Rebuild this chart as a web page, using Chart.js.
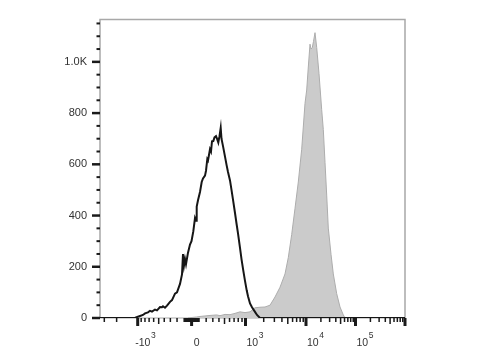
<!DOCTYPE html>
<html>
<head>
<meta charset="utf-8">
<script src="https://cdn.jsdelivr.net/npm/chart.js@4.4.1/dist/chart.umd.min.js"></script>
<style>
  html, body { margin: 0; padding: 0; background: #fff; }
  canvas { display: block; }
</style>
</head>
<body>
<canvas id="histChart" width="480" height="360"></canvas>
<script>
// x is the display channel of the biexponential axis (0..305)
const blackChannels = [0, 35, 36, 40, 43, 45, 48, 50, 52, 55, 57, 60, 62, 63, 65, 67, 70, 72, 75, 77,
  80, 82, 83, 84, 85, 86, 88, 90, 91.5, 93.3, 95, 96, 96.7, 98, 100, 101.7, 103, 105, 106, 107.3,
  108, 110, 111, 112, 113.3, 114.5, 116, 117, 118.3, 119.5, 120.7, 121.5, 123.3, 125, 126.7, 128,
  130, 131.5, 133.3, 135, 136.7, 138, 140, 141.5, 143.3, 145, 146.7, 148, 150, 152, 155, 157, 160, 305];
const blackCounts = [0, 0, 2, 8, 12, 18, 22, 28, 25, 33, 30, 43, 42, 46, 40, 48, 63, 70, 95, 100,
  133, 170, 250, 205, 230, 210, 255, 287, 300, 338, 390, 380, 435, 460, 492, 531, 545, 556, 575, 620,
  615, 659, 650, 690, 691, 705, 710, 700, 685, 710, 742, 700, 665, 630, 595, 570,
  537, 500, 454, 410, 364, 330, 274, 230, 185, 145, 108, 85, 57, 42, 24, 12, 0, 0];

const grayChannels = [88, 92, 96.7, 100, 105, 110, 116.7, 120, 125, 130, 135, 140, 145, 150, 155, 160,
  165, 170, 175, 180, 185, 188.3, 191.7, 195, 198.3, 201.7, 205, 206.7, 208.3, 210, 211, 212.3, 213.5,
  215, 216.7, 219, 221.7, 223.3, 225, 226.7, 228.3, 231, 233.3, 236.7, 240, 243.3, 245];
const grayCounts = [0, 2, 4, 6, 8, 10, 12, 9, 14, 13, 18, 24, 21, 24, 40, 42,
  43, 50, 82, 120, 172, 236, 326, 428, 531, 659, 838, 890, 980, 1069, 1050, 1056, 1080,
  1114, 1056, 954, 813, 736, 608, 480, 351, 249, 172, 95, 43, 12, 0];

const yLabelValues = [0, 200, 400, 600, 800, 1000];
const yMinorStep = 50;
const yMax = 1165;

const xLabelValues = [-1000, 0, 1000, 10000, 100000];
const xLabelBase = ["-10", "0", "10", "10", "10"];
const xLabelExp = ["3", "", "3", "4", "5"];
const xMajorValues = [-1000, 0, 1000, 10000, 100000, 1000000];

// biex axis anchors: value -> channel
const decadeValues = [-10000, -1000, 0, 1000, 10000, 100000, 1000000];
const decadeChannels = [-32.3, 37.7, 91.6, 145.5, 206, 255.5, 305];

function toChannel(v) {
  const zero = decadeChannels[2];
  if (Math.abs(v) <= 1000) {
    const edge = v < 0 ? zero - decadeChannels[1] : decadeChannels[3] - zero;
    return zero + Math.sign(v) * edge * Math.asinh(Math.abs(v) / 500) / Math.asinh(2);
  }
  for (let i = 0; i < decadeValues.length - 1; i++) {
    const a = decadeValues[i], b = decadeValues[i + 1];
    if (v >= Math.min(a, b) && v <= Math.max(a, b)) {
      const t = Math.log10(Math.abs(v) / Math.abs(a)) / Math.log10(Math.abs(b) / Math.abs(a));
      return decadeChannels[i] + t * (decadeChannels[i + 1] - decadeChannels[i]);
    }
  }
  return NaN;
}

function xTickList() {
  const list = [{ v: 0, kind: "major" }];
  for (let k = 1; k <= 5; k++) {
    for (let m = 1; m <= 9; m++) {
      const v = m * Math.pow(10, k);
      const kind = xMajorValues.includes(v) ? "major" : (m === 5 && k >= 2 ? "mid" : "minor");
      list.push({ v, kind });
      if (k <= 3) list.push({ v: -v, kind });
    }
  }
  list.push({ v: 1000000, kind: "major" });
  return list;
}

const FONT = "'Liberation Sans', Arial, sans-serif";

const axisPlugin = {
  id: "biexAxes",
  beforeDatasetsDraw(chart) {
    const { ctx, chartArea: a } = chart;
    ctx.save();
    ctx.strokeStyle = "#a8a8a8";
    ctx.lineWidth = 1.5;
    ctx.beginPath();
    ctx.moveTo(a.left, a.bottom);
    ctx.lineTo(a.left, a.top);
    ctx.lineTo(a.right, a.top);
    ctx.lineTo(a.right, a.bottom);
    ctx.stroke();
    ctx.lineWidth = 1;
    ctx.beginPath();
    ctx.moveTo(a.left, a.bottom);
    ctx.lineTo(a.right, a.bottom);
    ctx.stroke();
    ctx.restore();
  },
  afterDatasetsDraw(chart) {
    const { ctx, chartArea: a, scales: { x, y } } = chart;
    ctx.save();
    ctx.strokeStyle = "#1a1a1a";

    // y ticks
    for (let v = 0; v <= yMax; v += yMinorStep) {
      const py = y.getPixelForValue(v);
      const major = yLabelValues.includes(v);
      ctx.lineWidth = major ? 2.5 : 2;
      ctx.beginPath();
      ctx.moveTo(a.left - (major ? 8 : 3.5), py);
      ctx.lineTo(a.left, py);
      ctx.stroke();
    }

    // x ticks
    xTickList().forEach((t) => {
      const ch = toChannel(t.v);
      if (!(ch >= x.min && ch <= x.max)) return;
      const px = x.getPixelForValue(ch);
      const len = t.kind === "major" ? 8 : t.kind === "mid" ? 6 : 4;
      ctx.lineWidth = t.kind === "major" ? 3 : 1.5;
      ctx.beginPath();
      ctx.moveTo(px, a.bottom);
      ctx.lineTo(px, a.bottom + len);
      ctx.stroke();
    });

    // x labels with superscript exponents
    ctx.fillStyle = "#333";
    ctx.textBaseline = "alphabetic";
    xLabelValues.forEach((v, i) => {
      const px = x.getPixelForValue(toChannel(v));
      const base = xLabelBase[i];
      ctx.font = `10.5px ${FONT}`;
      if (!xLabelExp[i]) {
        ctx.textAlign = "center";
        ctx.fillText(base, px + 5, a.bottom + 28);
        return;
      }
      const sign = base.startsWith("-") ? "-" : "";
      const digits = base.replace("-", "");
      const left = px + 1;
      ctx.textAlign = "right";
      if (sign) ctx.fillText(sign, left, a.bottom + 28);
      ctx.textAlign = "left";
      ctx.fillText(digits, left, a.bottom + 28);
      const w = ctx.measureText(digits).width;
      ctx.font = `8.5px ${FONT}`;
      ctx.fillText(xLabelExp[i], left + w + 0.5, a.bottom + 20);
    });
    ctx.restore();
  },
};

new Chart(document.getElementById("histChart"), {
  type: "line",
  data: {
    datasets: [
      {
        label: "stained",
        data: blackChannels.map((c, i) => ({ x: c, y: blackCounts[i] })),
        borderColor: "#161616",
        borderWidth: 2,
        fill: false,
        pointRadius: 0,
        tension: 0,
        order: 0,
      },
      {
        label: "control",
        data: grayChannels.map((c, i) => ({ x: c, y: grayCounts[i] })),
        borderColor: "#adadad",
        backgroundColor: "#cbcbcb",
        borderWidth: 1,
        fill: "origin",
        pointRadius: 0,
        tension: 0,
        order: 1,
      },
    ],
  },
  options: {
    responsive: false,
    animation: false,
    devicePixelRatio: 1,
    layout: { padding: { top: 15, right: 75, bottom: 42, left: 0 } },
    plugins: { legend: { display: false }, tooltip: { enabled: false } },
    scales: {
      x: {
        type: "linear",
        min: 0,
        max: 305,
        display: false,
      },
      y: {
        type: "linear",
        min: 0,
        max: yMax,
        afterFit: (scale) => { scale.width = 100; },
        afterBuildTicks: (scale) => { scale.ticks = yLabelValues.map((v) => ({ value: v })); },
        grid: { display: false, drawTicks: false },
        border: { display: false },
        ticks: {
          autoSkip: false,
          padding: 13,
          color: "#333",
          font: { family: FONT, size: 11 },
          callback: (v) => (v >= 1000 ? (v / 1000).toFixed(1) + "K" : v),
        },
      },
    },
  },
  plugins: [axisPlugin],
});
</script>
</body>
</html>
